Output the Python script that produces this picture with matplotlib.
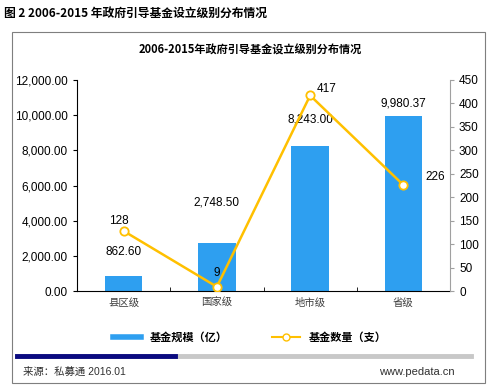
import matplotlib.pyplot as plt
import matplotlib.patches as mpatches
from matplotlib.lines import Line2D
from matplotlib.ticker import FuncFormatter, MultipleLocator

plt.rcParams['font.family'] = ['Liberation Sans', 'Noto Sans CJK SC', 'DejaVu Sans']

# data
categories = ["县区级", "国家级", "地市级", "省级"]
fund_size = [862.60, 2748.50, 8243.00, 9980.37]   # 基金规模（亿）
fund_count = [128, 9, 417, 226]                    # 基金数量（支）
size_labels = ["862.60", "2,748.50", "8,243.00", "9,980.37"]

blue = "#2e9ff0"
yellow = "#ffc000"
cjk = ['Noto Sans CJK SC', 'DejaVu Sans']

fig = plt.figure(figsize=(5, 3.9), dpi=100)

# outer frame
fig.patches.append(mpatches.Rectangle((12 / 500, 1 - 383 / 390), 473 / 500, 351 / 390,
                                      transform=fig.transFigure, fill=False,
                                      edgecolor="#7f7f7f", linewidth=0.8))
fig.text(4 / 500, 1 - 13 / 390, "图 2 2006-2015 年政府引导基金设立级别分布情况",
         fontsize=8.5, fontweight="bold", va="center", ha="left", family=cjk)
fig.text(0.5, 1 - 50 / 390, "2006-2015年政府引导基金设立级别分布情况",
         fontsize=8, fontweight="bold", va="center", ha="center", family=cjk)

ax = fig.add_axes([77 / 500, 1 - 291 / 390, 373 / 500, 211 / 390])
x = range(len(categories))
ax.bar(x, fund_size, width=0.4, color=blue, zorder=2)
ax.set_ylim(0, 12000)
ax.set_xlim(-0.5, 3.5)
ax.yaxis.set_major_locator(MultipleLocator(2000))
ax.yaxis.set_major_formatter(FuncFormatter(lambda v, p: f"{v:,.2f}"))
ax.set_xticks(x)
ax.set_xticklabels(categories, fontsize=7.5, color="#404040", family=cjk)
ax.tick_params(axis="y", labelsize=8.5, length=3, direction="out")
ax.tick_params(axis="x", length=0, pad=5)
for s in ["top", "right"]:
    ax.spines[s].set_visible(False)
ax.spines["left"].set_color("black")
ax.spines["bottom"].set_color("black")
# minor ticks between categories
ax.set_xticks([0.5, 1.5, 2.5], minor=True)
ax.tick_params(axis="x", which="minor", length=3, direction="in")

size_offsets = [17, 29, 19, 8.3]
for i, (v, lab) in enumerate(zip(fund_size, size_labels)):
    ax.annotate(lab, (i, v), xytext=(0, size_offsets[i]), textcoords="offset points",
                ha="center", va="center", fontsize=8.5)

ax2 = ax.twinx()
ax2.plot(x, fund_count, color=yellow, linewidth=1.8, marker="o", markersize=6,
         markerfacecolor="white", markeredgecolor=yellow, markeredgewidth=1.3, zorder=3)
ax2.set_ylim(0, 450)
ax2.yaxis.set_major_locator(MultipleLocator(50))
ax2.tick_params(axis="y", labelsize=8.5, length=3, color="#a0a0a0")
for s in ["top", "left", "bottom"]:
    ax2.spines[s].set_visible(False)
ax2.spines["right"].set_color("#a0a0a0")

count_offsets = [(-3.6, 7.2), (0, 10), (12, 5), (23, 5.8)]
for i, v in enumerate(fund_count):
    dx, dy = count_offsets[i]
    ax2.annotate(str(v), (i, v), xytext=(dx, dy), textcoords="offset points",
                 ha="center", va="center", fontsize=8.5)

# legend
handles = [Line2D([0], [0], color=blue, linewidth=4),
           Line2D([0], [0], color=yellow, linewidth=1.5, marker="o", markersize=5,
                  markerfacecolor="white", markeredgecolor=yellow)]
fig.legend(handles, ["基金规模（亿）", "基金数量（支）"], loc="center",
           bbox_to_anchor=(0.5, 1 - 337 / 390), ncol=2, frameon=False,
           prop={"size": 8, "weight": "bold", "family": cjk},
           handlelength=2.5, columnspacing=4)

# bottom bar
fig.add_artist(Line2D([17 / 500, 471 / 500], [1 - 356 / 390] * 2, color="#c8c8c8",
                      linewidth=3.5, transform=fig.transFigure))
fig.add_artist(Line2D([17 / 500, 175 / 500], [1 - 356 / 390] * 2, color="#0a0a80",
                      linewidth=3.5, transform=fig.transFigure))
fig.text(23 / 500, 1 - 372 / 390, "来源：私募通 2016.01", fontsize=7.5,
         va="center", ha="left", color="#303030")
fig.text(455 / 500, 1 - 372 / 390, "www.pedata.cn", fontsize=8,
         va="center", ha="right", color="#303030")

fig.savefig("out.png", dpi=100)
